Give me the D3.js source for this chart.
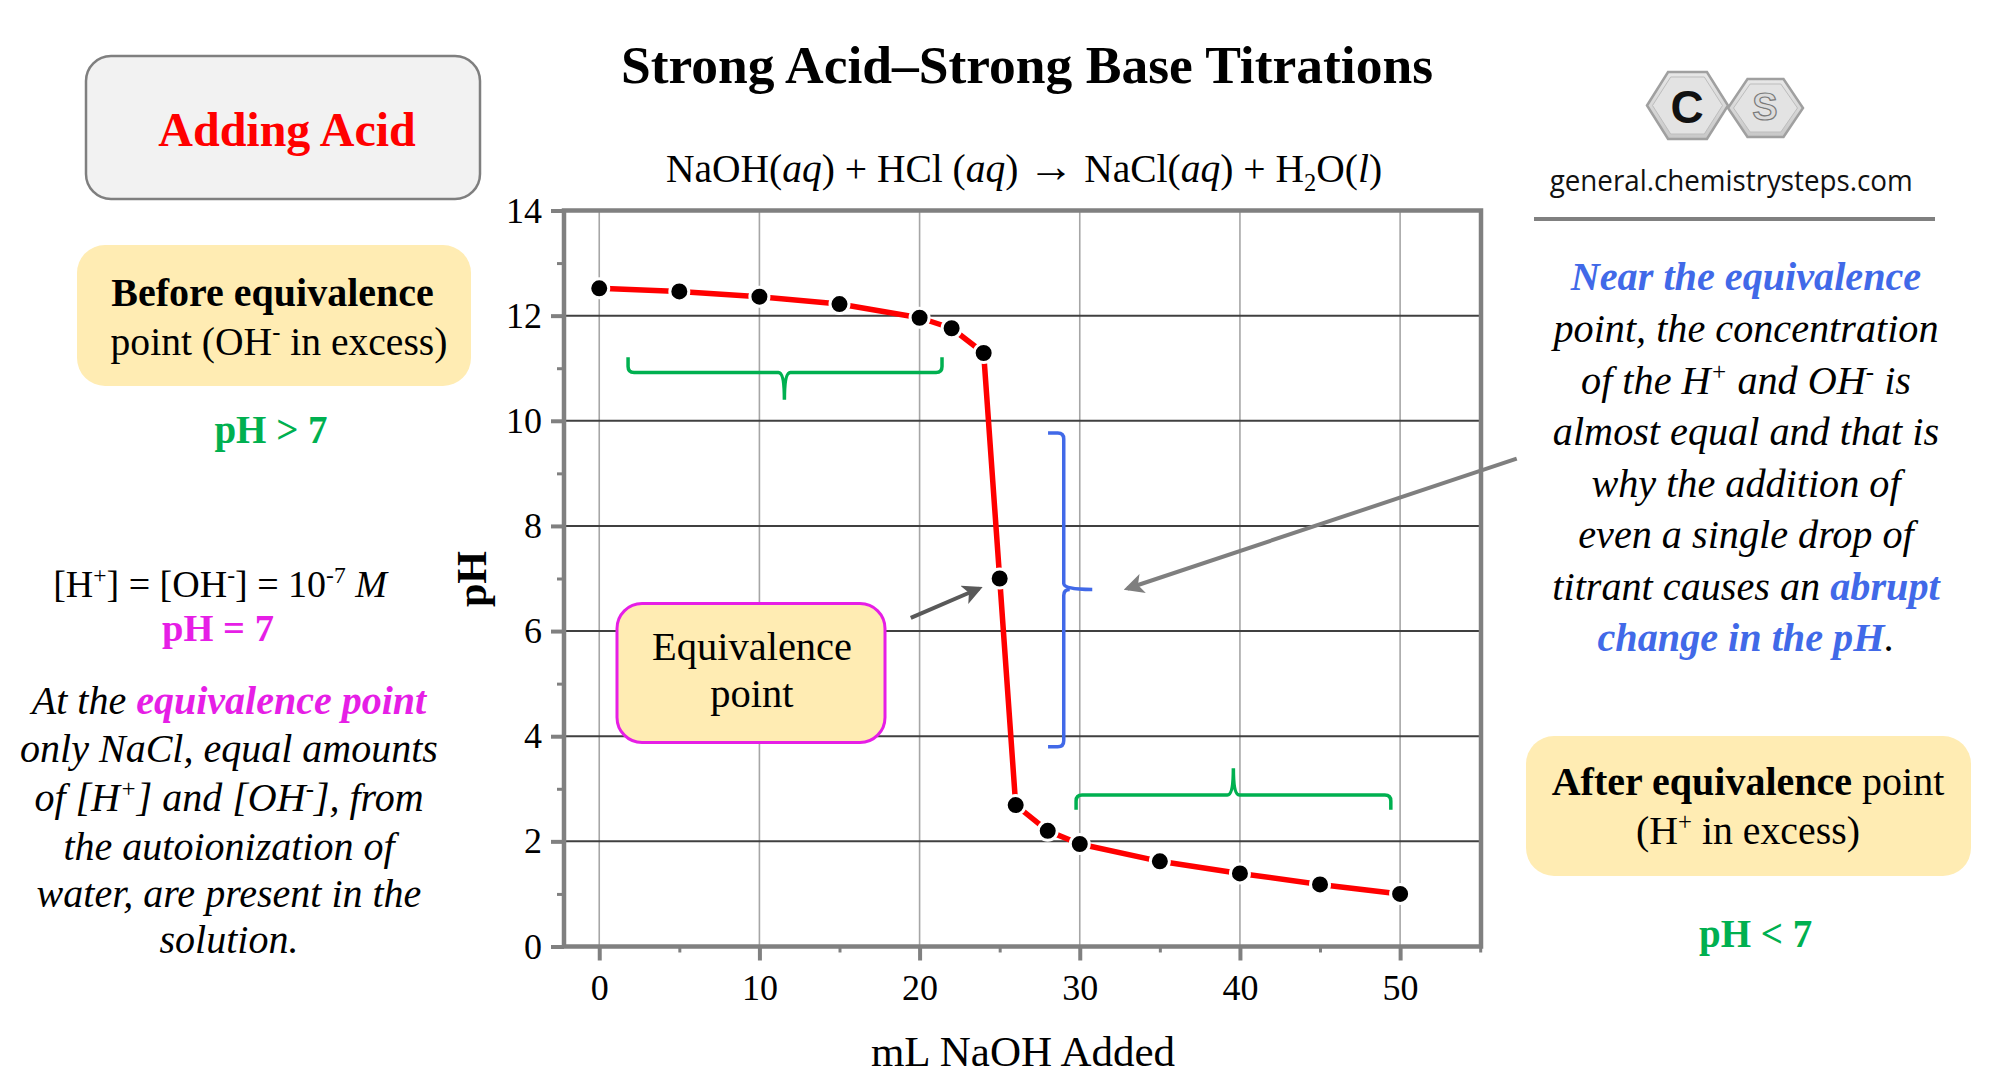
<!DOCTYPE html>
<html>
<head>
<meta charset="utf-8">
<script src="https://cdn.jsdelivr.net/npm/d3@7/dist/d3.min.js"></script>
<style>
  html, body { margin: 0; padding: 0; background: #ffffff; }
  svg text { white-space: pre; }
</style>
</head>
<body>
<svg id="chart" width="2000" height="1091"></svg>
<script>
// ---------------- data ----------------
const mlNaOH   = [0, 5, 10, 15, 20, 22, 24, 25, 26, 28, 30, 35, 40, 45, 50];
const pHValues = [12.52, 12.46, 12.36, 12.22, 11.96, 11.76, 11.29, 7.0, 2.69, 2.20, 1.95, 1.62, 1.39, 1.18, 1.00];
const yMajorTicks = [0, 2, 4, 6, 8, 10, 12, 14];
const yMinorTicks = [1, 3, 5, 7, 9, 11, 13];
const xMajorTicks = [0, 10, 20, 30, 40, 50];
const xMinorTicks = [5, 15, 25, 35, 45, 55];
const titleText = "Strong Acid\u2013Strong Base Titrations";
const xAxisTitle = "mL NaOH Added";
const yAxisTitle = "pH";

// ---------------- setup ----------------
const SERIF = "'Liberation Serif','Times New Roman',Times,serif";
const svg = d3.select("#chart");
svg.append("rect").attr("width", 2000).attr("height", 1091).attr("fill", "#fff");

const x = d3.scaleLinear().domain([-2.2, 55.05]).range([564, 1481]);
const y = d3.scaleLinear().domain([0, 14]).range([946.5, 210.5]);

const GREEN = "#00b050", MAGENTA = "#e61ee6", BLUE = "#4169e8", YELLOW = "#ffecb3";

function rich(g, px, py, size, parts, opts = {}) {
  const t = g.append("text")
    .attr("x", px).attr("y", py)
    .attr("text-anchor", opts.anchor || "middle")
    .attr("font-family", SERIF)
    .attr("font-size", size)
    .attr("fill", opts.fill || "#000");
  if (opts.bold) t.attr("font-weight", "bold");
  if (opts.italic) t.attr("font-style", "italic");
  let shifted = 0;
  parts.forEach(p => {
    if (typeof p === "string") p = { t: p };
    const s = t.append("tspan").text(p.t);
    if (p.b) s.attr("font-weight", "bold");
    if (p.i) s.attr("font-style", "italic");
    if (p.c) s.attr("fill", p.c);
    if (p.fs) s.attr("font-size", p.fs);
    const target = p.sup ? -size * 0.36 : (p.sub ? size * 0.22 : 0);
    if (target !== shifted) { s.attr("dy", target - shifted); shifted = target; }
    if (p.sup || p.sub) s.attr("font-size", size * 0.62);
  });
  return t;
}

// ---------------- plot ----------------
const plot = svg.append("g");

// gridlines
plot.append("g").selectAll("line").data(xMajorTicks).join("line")
  .attr("x1", d => x(d)).attr("x2", d => x(d))
  .attr("y1", y(14)).attr("y2", y(0))
  .attr("stroke", "#a6a6a6").attr("stroke-width", 1.6);
plot.append("g").selectAll("line").data(yMajorTicks.filter(d => d > 0 && d < 14)).join("line")
  .attr("x1", x.range()[0]).attr("x2", x.range()[1])
  .attr("y1", d => y(d)).attr("y2", d => y(d))
  .attr("stroke", "#404040").attr("stroke-width", 2);

// axes (ticks + labels)
const yAxis = d3.axisLeft(y).tickValues(yMajorTicks).tickSize(13).tickPadding(9).tickFormat(d3.format("d"));
const yAxisMinor = d3.axisLeft(y).tickValues(yMinorTicks).tickSize(7).tickFormat("");
const xAxis = d3.axisBottom(x).tickValues(xMajorTicks).tickSize(14).tickPadding(14).tickFormat(d3.format("d"));
const xAxisMinor = d3.axisBottom(x).tickValues(xMinorTicks).tickSize(6).tickFormat("");

function styleAxis(g, w) {
  g.select(".domain").remove();
  g.selectAll(".tick line").attr("stroke", "#808080").attr("stroke-width", w);
  g.selectAll(".tick text").attr("font-family", SERIF).attr("font-size", 36).attr("fill", "#000");
}
plot.append("g").attr("transform", `translate(${x.range()[0]},0)`).call(yAxis).call(g => styleAxis(g, 4));
plot.append("g").attr("transform", `translate(${x.range()[0]},0)`).call(yAxisMinor).call(g => styleAxis(g, 3));
plot.append("g").attr("transform", `translate(0,${y(0)})`).call(xAxis).call(g => styleAxis(g, 4));
plot.append("g").attr("transform", `translate(0,${y(0)})`).call(xAxisMinor).call(g => styleAxis(g, 3));

// frame
plot.append("rect")
  .attr("x", x.range()[0]).attr("y", y(14))
  .attr("width", x.range()[1] - x.range()[0]).attr("height", y(0) - y(14))
  .attr("fill", "none").attr("stroke", "#808080").attr("stroke-width", 4.5);

// axis titles
svg.append("text").attr("x", 1023).attr("y", 1066).attr("text-anchor", "middle")
  .attr("font-family", SERIF).attr("font-size", 43).text(xAxisTitle);
svg.append("text").attr("transform", "translate(486,579) rotate(-90)").attr("text-anchor", "middle")
  .attr("font-family", SERIF).attr("font-size", 42).attr("font-weight", "bold").text(yAxisTitle);

// braces (annotation, positioned in data units)
function braceH(x0, x1, xm, yLine, yEnd, yTip, color) {
  const r = 6, dirEnd = Math.sign(yEnd - yLine);
  const X0 = x(x0), X1 = x(x1), XM = x(xm), YL = y(yLine), YE = y(yEnd), YT = y(yTip);
  const path = `M${X0},${YE} L${X0},${YL - dirEnd * r} Q${X0},${YL} ${X0 + r},${YL} L${XM - r},${YL} Q${XM},${YL} ${XM},${YT}` +
               ` M${XM},${YT} Q${XM},${YL} ${XM + r},${YL} L${X1 - r},${YL} Q${X1},${YL} ${X1},${YL - dirEnd * r} L${X1},${YE}`;
  plot.append("path").attr("d", path).attr("fill", "none").attr("stroke", color)
    .attr("stroke-width", 3.5).attr("stroke-linejoin", "round");
}
braceH(1.8, 21.4, 11.56, 10.92, 11.21, 10.40, GREEN);
braceH(29.77, 49.42, 39.59, 2.88, 2.60, 3.39, GREEN);

(function braceV() {
  const XL = x(29.0), XE = x(28.02), XT = x(30.78), YT = y(9.77), YB = y(3.80), YM = y(6.79), r = 6;
  const path = `M${XE},${YT} L${XL - r},${YT} Q${XL},${YT} ${XL},${YT + r} L${XL},${YM - r} Q${XL},${YM} ${XT},${YM}` +
               ` M${XL + r},${YM} Q${XL},${YM} ${XL},${YM + r} L${XL},${YB - r} Q${XL},${YB} ${XL - r},${YB} L${XE},${YB}`;
  plot.append("path").attr("d", path).attr("fill", "none").attr("stroke", BLUE)
    .attr("stroke-width", 3.5).attr("stroke-linejoin", "round");
})();

// titration curve
const pts = mlNaOH.map((v, i) => [v, pHValues[i]]);
plot.append("path").datum(pts)
  .attr("d", d3.line().x(d => x(d[0])).y(d => y(d[1])))
  .attr("fill", "none").attr("stroke", "#ff0000").attr("stroke-width", 5.5).attr("stroke-linejoin", "round");
plot.append("g").selectAll("circle").data(pts).join("circle")
  .attr("cx", d => x(d[0])).attr("cy", d => y(d[1])).attr("r", 9.5)
  .attr("fill", "#000").attr("stroke", "#fff").attr("stroke-width", 3);

// arrows
const defs = svg.append("defs");
function marker(id, color) {
  defs.append("marker").attr("id", id).attr("viewBox", "0 0 10 10").attr("refX", 8).attr("refY", 5)
    .attr("markerWidth", 5).attr("markerHeight", 5).attr("orient", "auto")
    .append("path").attr("d", "M0,0 L10,5 L0,10 L2.5,5 Z").attr("fill", color);
}
marker("ah1", "#595959");
marker("ah2", "#7f7f7f");
svg.append("line").attr("x1", x(19.45)).attr("y1", y(6.25)).attr("x2", x(23.71)).attr("y2", y(6.81))
  .attr("stroke", "#595959").attr("stroke-width", 4).attr("marker-end", "url(#ah1)");
svg.append("line").attr("x1", x(57.28)).attr("y1", y(9.28)).attr("x2", x(32.98)).attr("y2", y(6.81))
  .attr("stroke", "#7f7f7f").attr("stroke-width", 4).attr("marker-end", "url(#ah2)");

// equivalence point box
svg.append("rect").attr("x", 617).attr("y", 603.5).attr("width", 268).attr("height", 139).attr("rx", 25)
  .attr("fill", YELLOW).attr("stroke", MAGENTA).attr("stroke-width", 3);
rich(svg, 752, 660, 40.5, ["Equivalence"]);
rich(svg, 752, 706.6, 40.5, ["point"]);

// ---------------- titles ----------------
svg.append("text").attr("x", 1027).attr("y", 83).attr("text-anchor", "middle")
  .attr("font-family", SERIF).attr("font-size", 53.5).attr("font-weight", "bold").text(titleText);
rich(svg, 1024, 182, 39.5, ["NaOH(", { t: "aq", i: true }, ") + HCl (", { t: "aq", i: true }, ") ",
  { t: "\u2192", fs: 46 }, " NaCl(",
  { t: "aq", i: true }, ") + H", { t: "2", sub: true }, "O(", { t: "l", i: true }, ")"]);

// ---------------- left panel ----------------
svg.append("rect").attr("x", 86).attr("y", 56).attr("width", 394).attr("height", 143).attr("rx", 25)
  .attr("fill", "#f2f2f2").attr("stroke", "#7f7f7f").attr("stroke-width", 2.5);
rich(svg, 287, 146, 48, ["Adding Acid"], { bold: true, fill: "#ff0000" });

svg.append("rect").attr("x", 77).attr("y", 245).attr("width", 394).attr("height", 141).attr("rx", 28)
  .attr("fill", YELLOW);
rich(svg, 272.6, 306, 40, ["Before equivalence"], { bold: true });
rich(svg, 279, 354.5, 39.6, ["point (OH", { t: "-", sup: true }, " in excess)"]);
rich(svg, 271, 443, 39, ["pH > 7"], { bold: true, fill: GREEN });

rich(svg, 220, 597, 38, ["[H", { t: "+", sup: true }, "] = [OH", { t: "-", sup: true }, "] = 10", { t: "-7", sup: true }, " ", { t: "M", i: true }]);
rich(svg, 218, 640.6, 38.5, ["pH = 7"], { bold: true, fill: MAGENTA });

const leftPara = [
  ["At the ", { t: "equivalence point", b: true, c: MAGENTA }],
  ["only NaCl, equal amounts"],
  ["of [H", { t: "+", sup: true }, "] and [OH", { t: "-", sup: true }, "], from"],
  ["the autoionization of"],
  ["water, are present in the"],
  ["solution."]
];
const leftBase = [713.6, 762, 811, 859.6, 906.5, 953.4];
leftPara.forEach((parts, i) => rich(svg, 229, leftBase[i], 40, parts, { italic: true }));

// ---------------- right panel ----------------
// logo
(function logo() {
  const g = svg.append("g");
  const grad = defs.append("linearGradient").attr("id", "hexg").attr("x1", 0).attr("y1", 0).attr("x2", 0).attr("y2", 1);
  grad.append("stop").attr("offset", 0).attr("stop-color", "#e8e8e8");
  grad.append("stop").attr("offset", 1).attr("stop-color", "#c8c8c8");
  function hex(cx, cy, w, h) {
    const a = w / 2, b = h / 2, e = w * 0.26;
    return `M${cx - a},${cy} L${cx - a + e},${cy - b} L${cx + a - e},${cy - b} L${cx + a},${cy} L${cx + a - e},${cy + b} L${cx - a + e},${cy + b} Z`;
  }
  g.append("path").attr("d", hex(1687.5, 105.5, 81, 67)).attr("fill", "url(#hexg)").attr("stroke", "#a0a0a0").attr("stroke-width", 2.5);
  g.append("path").attr("d", hex(1687.5, 105.5, 70, 57)).attr("fill", "#e3e3e3").attr("stroke", "#bdbdbd").attr("stroke-width", 1);
  g.append("path").attr("d", hex(1765.5, 108, 75, 58)).attr("fill", "url(#hexg)").attr("stroke", "#a0a0a0").attr("stroke-width", 2.5);
  g.append("path").attr("d", hex(1765.5, 108, 64, 48)).attr("fill", "#e3e3e3").attr("stroke", "#bdbdbd").attr("stroke-width", 1);
  g.append("text").attr("x", 1687).attr("y", 123).attr("text-anchor", "middle").attr("font-family", "'Liberation Sans',Arial,sans-serif")
    .attr("font-weight", "bold").attr("font-size", 46).attr("fill", "#111").text("C");
  g.append("text").attr("x", 1765).attr("y", 120).attr("text-anchor", "middle").attr("font-family", "'Liberation Sans',Arial,sans-serif")
    .attr("font-weight", "bold").attr("font-size", 38).attr("fill", "#dcdcdc").attr("stroke", "#7a7a7a").attr("stroke-width", 1.2).text("S");
})();

svg.append("text").attr("x", 1549.7).attr("y", 190.5).attr("font-family", "'Open Sans',Lato,sans-serif")
  .attr("font-size", 29).attr("textLength", 363).attr("lengthAdjust", "spacingAndGlyphs").attr("fill", "#111")
  .text("general.chemistrysteps.com");
svg.append("line").attr("x1", 1534).attr("x2", 1935).attr("y1", 219).attr("y2", 219)
  .attr("stroke", "#808080").attr("stroke-width", 4);

const rightPara = [
  [{ t: "Near the equivalence", b: true, c: BLUE }],
  ["point, the concentration"],
  ["of the H", { t: "+", sup: true }, " and OH", { t: "-", sup: true }, " is"],
  ["almost equal and that is"],
  ["why the addition of"],
  ["even a single drop of"],
  ["titrant causes an ", { t: "abrupt", b: true, c: BLUE }],
  [{ t: "change in the pH", b: true, c: BLUE }, "."]
];
const rightBase = [290, 342, 394, 445, 497, 548, 599.5, 651];
rightPara.forEach((parts, i) => rich(svg, 1746, rightBase[i], 40.2, parts, { italic: true }));

svg.append("rect").attr("x", 1526).attr("y", 736).attr("width", 445).attr("height", 140).attr("rx", 28)
  .attr("fill", YELLOW);
rich(svg, 1748, 795, 40, [{ t: "After equivalence", b: true }, " point"]);
rich(svg, 1748, 844, 39.8, ["(H", { t: "+", sup: true }, " in excess)"]);
rich(svg, 1755.7, 946.5, 39, ["pH < 7"], { bold: true, fill: GREEN });
</script>
</body>
</html>
